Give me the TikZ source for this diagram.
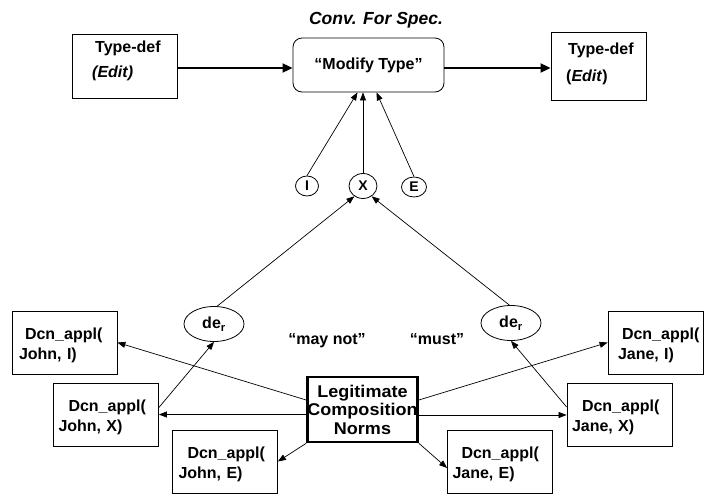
\documentclass[tikz,border=0pt]{standalone}
\usepackage{fontspec}
\setmainfont{Liberation Sans}
\usetikzlibrary{arrows.meta,shapes.geometric,calc}
\newcommand\upstrut{\rule{0pt}{17pt}}
\begin{document}
\begin{tikzpicture}[x=1pt,y=-1pt,
  every node/.style={font=\bfseries\fontsize{16}{20}\selectfont},
  box/.style={draw,line width=0.8pt,inner sep=0pt},
  dcn/.style={draw,line width=0.8pt,text width=95pt,inner xsep=5pt,inner ysep=0pt,align=left,minimum height=63pt},
  lbl/.style={inner sep=0pt},
  arr/.style={line width=0.7pt,-{Triangle[length=8pt,width=6pt]}},
  bigarr/.style={line width=1.8pt,-{Triangle[length=10pt,width=9pt]}},
  circ/.style={draw,ellipse,line width=0.8pt,inner sep=0pt,font=\bfseries\fontsize{14}{16}\selectfont},
  der/.style={draw,ellipse,line width=0.8pt,inner sep=0pt,minimum width=60pt,minimum height=35pt}
]
\useasboundingbox (0,0) rectangle (705,496);

% top row
\node[lbl,font=\bfseries\itshape\fontsize{17.5}{20}\selectfont] (title) at (376,20) {Conv. For Spec.};
\node[box,minimum width=105pt,minimum height=64pt] (tdl) at (124.5,66) {};
\node[lbl,anchor=west] (tdlt) at (95,48) {Type-def};
\node[lbl,anchor=west] (tdle) at (92,73) {\itshape (Edit)};
\node[box,rounded corners=9pt,minimum width=151pt,minimum height=54pt] (mod) at (368.5,65) {\raisebox{3pt}{“Modify Type”}};
\node[box,minimum width=95pt,minimum height=68pt] (tdr) at (598.5,66) {};
\node[lbl,anchor=west] (tdrt) at (568,50) {Type-def};
\node[lbl,anchor=west] (tdre) at (566,77) {(\textit{Edit})};

\draw[bigarr] ([yshift=-2pt]tdl.east) -- ([yshift=-2pt]tdl.east -| mod.west);
\draw[bigarr] ([yshift=-3pt]mod.east) -- ([yshift=-3pt]mod.east -| tdr.west);

% circles
\node[circ,minimum width=23pt,minimum height=20pt] (I) at (307,186) {I};
\node[circ,minimum width=28pt,minimum height=25pt] (X) at (363,186) {X};
\node[circ,minimum width=25pt,minimum height=20pt] (E) at (414,187) {E};

\draw[arr] (I.north) -- ($(mod.south)+(-11,0)$);
\draw[arr] (X.north) -- (X.north |- mod.south);
\draw[arr] (E.north) -- ($(mod.south)+(8,0)$);

% de_r
\node[der] (derl) at (214,324) {de\textsubscript{r}};
\node[der] (derr) at (511,323) {de\textsubscript{r}};
\draw[arr] (derl.80) -- (X.230);
\draw[arr] (derr.95) -- (X.-50);

\node[lbl] (maynot) at (327,341) {“may not”};
\node[lbl] (must) at (437,339) {“must”};

% legitimate box
\node[draw,line width=2.6pt,minimum width=107pt,minimum height=65pt,inner sep=0pt,align=center,font=\bfseries\fontsize{17}{18.5}\selectfont\addfontfeatures{FakeStretch=1.06}] (legit) at (362.5,409.5) {Legitimate\\Composition\\Norms};

% Dcn boxes
\node[dcn] (johni) at (64.5,342.5) {\upstrut\hspace*{8pt}Dcn\_appl(\\\hspace*{2pt}John, I)};
\node[dcn] (johnx) at (106,414.5) {\upstrut\hspace*{10pt}Dcn\_appl(\\John, X)};
\node[dcn] (johne) at (225,461.5) {\upstrut\hspace*{10pt}Dcn\_appl(\\\hspace*{1pt}John, E)};
\node[dcn] (janee) at (500,462) {\upstrut\hspace*{9pt}Dcn\_appl(\\Jane, E)};
\node[dcn] (janex) at (619.5,415) {\upstrut\hspace*{10pt}Dcn\_appl(\\Jane, X)};
\node[dcn,text width=85pt] (janei) at (655.5,342.5) {\upstrut\hspace*{9pt}Dcn\_appl(\\\hspace*{5pt}Jane, I)};

% connectors from legit
\draw[arr] ([yshift=9.5pt]legit.west) -- (johni.east);
\draw[arr] (legit.west |- johnx.east) -- (johnx.east);
\draw[arr] (legit.south west) -- (johne.east);
\draw[arr] ([yshift=9.5pt]legit.east) -- (janei.west);
\draw[arr] (legit.east |- janex.west) -- (janex.west);
\draw[arr] (legit.south east) -- ([yshift=-6pt]janee.west);

% to de_r
\draw[arr] ([yshift=7pt]johnx.east) -- (derl.south);
\draw[arr] ([yshift=8pt]janex.west) -- (derr.south);
\end{tikzpicture}
\end{document}
